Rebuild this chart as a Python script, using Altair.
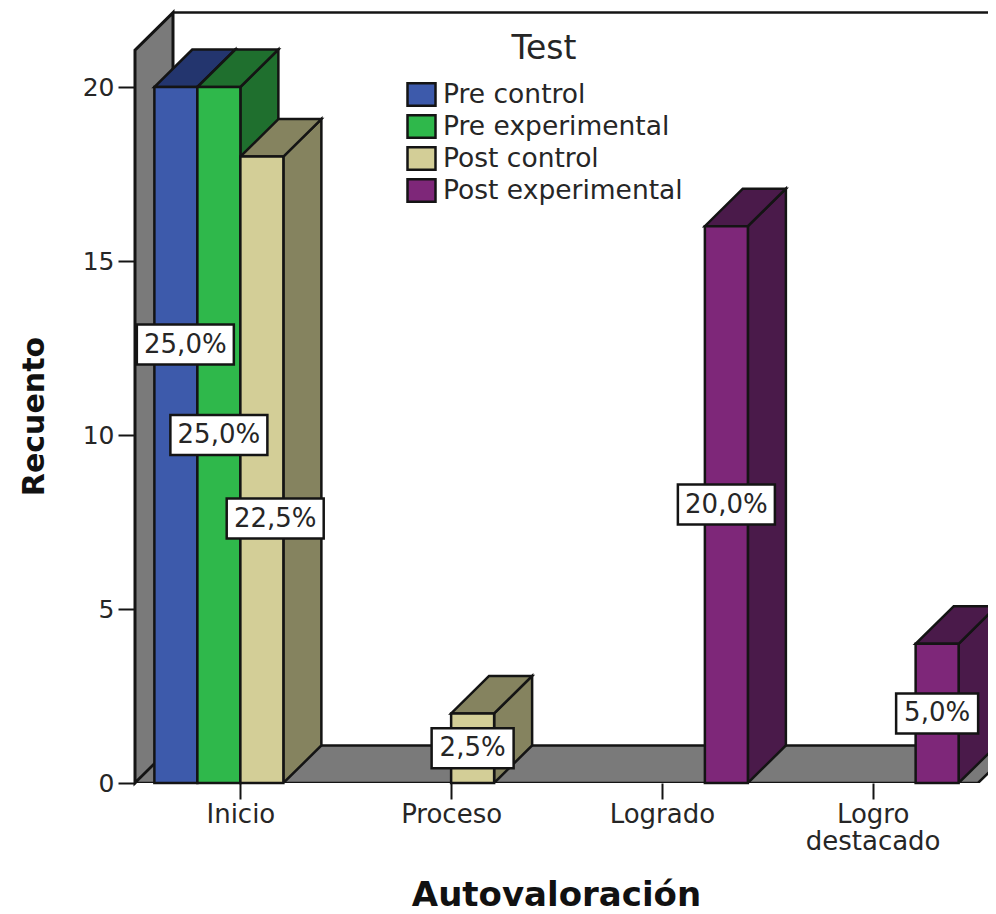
import altair as alt
import pandas as pd

categories = ["Inicio", "Proceso", "Logrado", "Logro destacado"]
series = ["Pre control", "Pre experimental", "Post control", "Post experimental"]
pre_control = [20, 0, 0, 0]
pre_experimental = [20, 0, 0, 0]
post_control = [18, 2, 0, 0]
post_experimental = [0, 0, 16, 4]
total_n = 80

front_colors = ["#3D5AAB", "#2FB84B", "#D3CE97", "#7E2779"]
side_colors = ["#23356E", "#1F6F2E", "#85835F", "#4A1A4A"]
GREY = "#7A7A7A"
INK = "#141414"
TEXT = "#262626"
FONT = "DejaVu Sans"

# label placement: (height in counts, sideways shift in bar widths)
label_nudges = {
    ("Pre control", "Inicio"): (12.6, 0.22),
    ("Pre experimental", "Inicio"): (10.0, 0.0),
    ("Post control", "Inicio"): (7.6, 0.31),
}

# scale sizes (pixels)
PLOT_W, PLOT_H = 853, 775
STEP_PX, COUNT_PX = 210.75, 34.8
BAR = 43 / STEP_PX
DX, DY = 38 / STEP_PX, 37.5 / COUNT_PX
WALL_TOP = 21.06
BOX_H = 40 / COUNT_PX

xs = alt.Scale(domain=[0, PLOT_W / STEP_PX], range=[0, PLOT_W], nice=False, zero=False)
ys = alt.Scale(domain=[0, PLOT_H / COUNT_PX], range=[PLOT_H, 0], nice=False, zero=False)

label_expr = "['Inicio','Proceso','Logrado',['Logro','destacado']][floor(datum.value)]"
x_axis = alt.Axis(
    values=[i + 0.5 for i in range(len(categories))], labelExpr=label_expr, grid=False, domain=False,
    title="Autovaloración", titleFont=FONT, titleFontSize=34, titleFontWeight="bold", titleColor="#111",
    titleX=421, titleY=112, titleBaseline="middle", titleAnchor="middle", titleAlign="center",
    labelFont=FONT, labelFontSize=26, labelColor=TEXT, labelPadding=2, labelLineHeight=27,
    labelAngle=0, labelOverlap=False, labelBaseline="top",
    tickSize=16, tickWidth=2, tickColor=INK,
)
y_axis = alt.Axis(
    values=[0, 5, 10, 15, 20], grid=False, domain=False,
    title="Recuento", titleFont=FONT, titleFontSize=30, titleFontWeight="bold", titleColor="#111",
    titleX=-101, titleY=408, titleAngle=270, titleBaseline="middle", titleAlign="center",
    labelFont=FONT, labelFontSize=25, labelColor=TEXT, labelPadding=4,
    tickSize=17, tickWidth=2, tickColor=INK,
)


def X(f):
    return alt.X(f"{f}:Q", scale=xs, axis=x_axis)


def Y(f):
    return alt.Y(f"{f}:Q", scale=ys, axis=y_axis, stack=None)


rows, sides, tops, boxes = [], [], [], []
all_values = [pre_control, pre_experimental, post_control, post_experimental]
for s, (name, vals) in enumerate(zip(series, all_values)):
    for c, (cat, v) in enumerate(zip(categories, vals)):
        if v <= 0:
            continue
        x0 = c + 0.5 + (s - 2) * BAR
        x1 = x0 + BAR
        bid = f"{s}-{c}"
        rows.append({"serie": name, "x0": x0, "x1": x1, "y0": 0, "v": v})
        sides.append({"id": bid, "x": x1, "y": 0, "y2": v, "fill": side_colors[s]})
        sides.append({"id": bid, "x": x1 + DX, "y": DY, "y2": v + DY, "fill": side_colors[s]})
        tops.append({"id": bid, "x": x0, "x2": x1, "y": v, "fill": side_colors[s]})
        tops.append({"id": bid, "x": x0 + DX, "x2": x1 + DX, "y": v + DY, "fill": side_colors[s]})
        ly, shift = label_nudges.get((name, cat), (v / 2, 0.0))
        pct = f"{v / total_n * 100:.1f}".replace(".", ",") + "%"
        half_w = (97 if len(pct) > 4 else 82) / 2 / STEP_PX
        cx = (x0 + x1) / 2 + shift * BAR
        boxes.append({"cx": cx, "x0": cx - half_w, "x1": cx + half_w, "cy": ly,
                      "y0": ly - BOX_H / 2, "y1": ly + BOX_H / 2, "t": pct})

rows = pd.DataFrame(rows)
sides = pd.DataFrame(sides)
tops = pd.DataFrame(tops)
boxes = pd.DataFrame(boxes)

frame = pd.DataFrame({"x": [DX], "x2": [PLOT_W / STEP_PX], "y": [WALL_TOP + DY]})
back_top = alt.Chart(frame).mark_rule(color=INK, strokeWidth=2.5).encode(
    x=X("x"), x2="x2:Q", y=Y("y")
)
left_wall = alt.Chart(pd.DataFrame({"x": [0, DX], "y": [0, DY], "y2": [WALL_TOP, WALL_TOP + DY]})).mark_area(
    color=GREY, stroke=INK, strokeWidth=3, orient="vertical", opacity=1
).encode(x=X("x"), y=Y("y"), y2="y2:Q")
floor = alt.Chart(pd.DataFrame({"x": [0, DX], "x2": [4, 4 + DX], "y": [0, DY]})).mark_area(
    color=GREY, stroke=INK, strokeWidth=2.5, orient="horizontal", clip=True, opacity=1
).encode(x=X("x"), x2="x2:Q", y=Y("y"))

side_layer = alt.Chart(sides).mark_area(stroke=INK, strokeWidth=2.5, orient="vertical", opacity=1, clip=True).encode(
    x=X("x"), y=Y("y"), y2="y2:Q", detail="id:N", fill=alt.Fill("fill:N", scale=None)
)
top_layer = alt.Chart(tops).mark_area(stroke=INK, strokeWidth=2.5, orient="horizontal", opacity=1, clip=True).encode(
    x=X("x"), x2="x2:Q", y=Y("y"), detail="id:N", fill=alt.Fill("fill:N", scale=None)
)
front_layer = alt.Chart(rows).mark_rect(stroke=INK, strokeWidth=2.5).encode(
    x=X("x0"), x2="x1:Q", y=Y("y0"), y2="v:Q",
    color=alt.Color(
        "serie:N",
        scale=alt.Scale(domain=series, range=front_colors),
        legend=alt.Legend(
            orient="none", legendX=271, legendY=25, direction="vertical",
            title="Test", titleFont=FONT, titleFontSize=33, titleFontWeight="normal", titleColor=TEXT,
            titleAnchor="middle", titlePadding=13,
            labelFont=FONT, labelFontSize=26.5, labelColor=TEXT, labelOffset=6, labelLimit=400,
            symbolType="M-1,-0.8H1V0.8H-1Z", symbolSize=784, symbolStrokeColor=INK, symbolStrokeWidth=2.5,
            symbolOpacity=1, rowPadding=-2, padding=0,
        ),
    ),
)
box_layer = alt.Chart(boxes).mark_rect(fill="white", stroke=INK, strokeWidth=2.5).encode(
    x=X("x0"), x2="x1:Q", y=Y("y0"), y2="y1:Q"
)
text_layer = alt.Chart(boxes).mark_text(font=FONT, fontSize=26, color=TEXT).encode(
    x=X("cx"), y=Y("cy"), text="t:N"
)

chart = alt.layer(
    back_top, left_wall, floor, side_layer, top_layer, front_layer, box_layer, text_layer
).properties(
    width=PLOT_W, height=PLOT_H,
    autosize=alt.AutoSizeParams(type="none"),
    padding={"left": 127, "top": 0, "right": 0, "bottom": 131},
    background="white",
).configure_view(stroke=None)

chart.save("out.html", embed_options={"renderer": "svg", "actions": False})
